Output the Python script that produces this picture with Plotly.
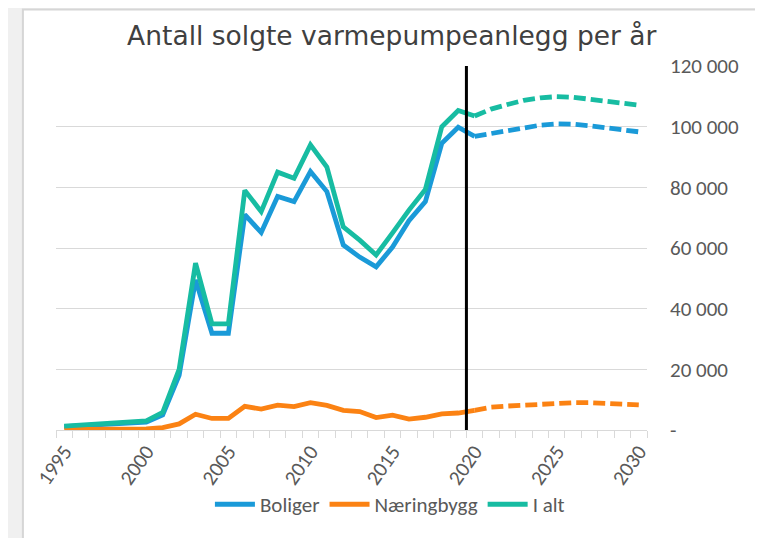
import plotly.graph_objects as go

# ---- data ----
years_hist = list(range(1995, 2021))
boliger_hist = [1100, 1400, 1700, 2000, 2300, 2600, 5000, 18000, 49500, 31900, 31900,
                71000, 65100, 77000, 75300, 85200, 78600, 61000, 57000, 53800, 60300,
                69000, 75300, 94500, 99800, 96800]
naering_hist = [200, 200, 200, 200, 250, 350, 800, 2000, 5200, 3800, 3800,
                7800, 6900, 8200, 7700, 9000, 8100, 6500, 6100, 4100, 4900,
                3600, 4200, 5300, 5600, 6500]
ialt_hist = [1300, 1600, 1900, 2200, 2500, 3000, 5800, 20000, 55000, 35000, 35000,
             79000, 72000, 85000, 83000, 94000, 86700, 67000, 62600, 57700, 65000,
             72500, 79300, 100000, 105300, 103500]

years_fc = list(range(2020, 2031))
boliger_fc = [96800, 97700, 98700, 99700, 100500, 100900, 100800, 100300, 99600, 98800, 98300]
naering_fc = [6500, 7500, 7900, 8200, 8400, 8700, 9000, 9000, 8700, 8400, 8300]
ialt_fc = [103500, 105800, 107300, 108700, 109500, 109900, 109700, 109100, 108400, 107600, 107100]

series_names = ["Boliger", "Næringbygg", "I alt"]
series_colors = ["#1a9ad8", "#fb8213", "#17bca2"]

x_tickvals = [1995, 2000, 2005, 2010, 2015, 2020, 2025, 2030]
y_tickvals = [0, 20000, 40000, 60000, 80000, 100000, 120000]
y_ticktext = ["-", "20 000", "40 000", "60 000", "80 000", "100 000", "120 000"]
divider_year = 2019.5
title_text = "Antall solgte varmepumpeanlegg per år"

# ---- figure ----
fig = go.Figure()
hist = [boliger_hist, naering_hist, ialt_hist]
fc = [boliger_fc, naering_fc, ialt_fc]

for name, col, ys in zip(series_names, series_colors, hist):
    fig.add_trace(go.Scatter(x=years_hist, y=ys, mode="lines", name=name,
                             line=dict(color=col, width=4.8), showlegend=True))
for name, col, ys in zip(series_names, series_colors, fc):
    fig.add_trace(go.Scatter(x=years_fc, y=ys, mode="lines", name=name + " prognose",
                             line=dict(color=col, width=4.8, dash="12px,5px"),
                             showlegend=False))

tick_font = dict(family="Carlito, Calibri, Lato, sans-serif", size=21, color="#595959")

# white panel with light border
fig.add_shape(type="rect", xref="paper", yref="paper",
              x0=-0.056, x1=1.193, y0=-0.35, y1=1.155,
              fillcolor="white", line=dict(color="#d6d6d6", width=2), layer="below")

fig.add_vline(x=divider_year, line=dict(color="black", width=3))

fig.update_layout(
    width=763, height=538,
    margin=dict(l=48, r=124, t=58, b=116),
    paper_bgcolor="#f0f0f0",
    plot_bgcolor="white",
    title=dict(text=title_text, x=0.503, xanchor="center", y=0.949, yanchor="middle",
               font=dict(family="DejaVu Sans, Verdana, sans-serif", size=26.5, color="#404040")),
    showlegend=True,
    legend=dict(orientation="h", x=0.565, xanchor="center", y=-0.205, yanchor="middle",
                font=tick_font, bgcolor="rgba(0,0,0,0)", itemwidth=40, tracegroupgap=0),
    xaxis=dict(range=[1994.5, 2030.5], tickmode="array", tickvals=x_tickvals,
               tickangle=-55, tickfont=tick_font, showgrid=False, zeroline=False,
               showline=True, linecolor="#d9d9d9", linewidth=1, ticks="",
               minor=dict(ticks="outside", ticklen=7, tickcolor="#d9d9d9",
                          tick0=1994.5, dtick=1, showgrid=False)),
    yaxis=dict(range=[0, 120000], side="right", tickmode="array", tickvals=y_tickvals,
               ticktext=y_ticktext, tickfont=tick_font, showgrid=True,
               gridcolor="#d9d9d9", gridwidth=1, zeroline=False, showline=False,
               ticks="", ticklabelstandoff=22),
)

fig.write_html("out.html")
